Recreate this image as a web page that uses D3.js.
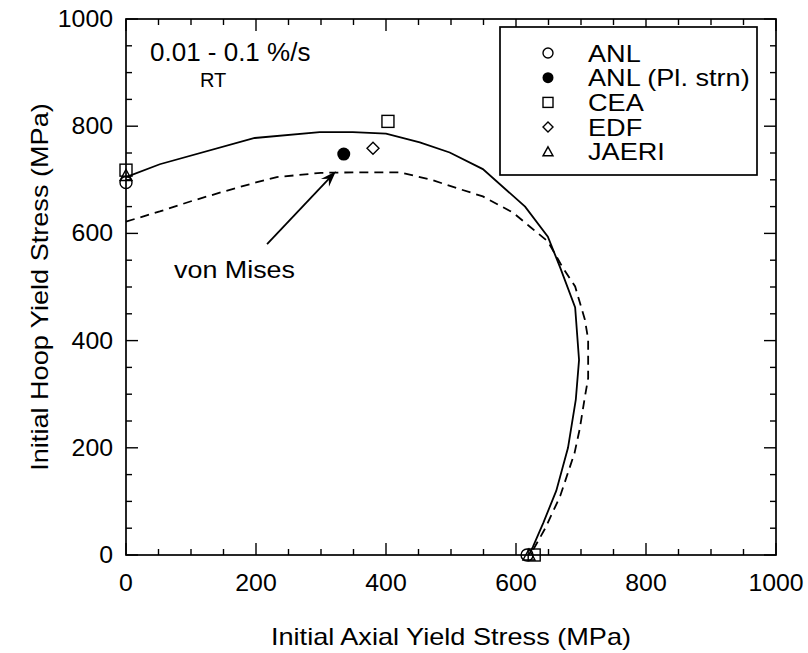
<!DOCTYPE html>
<html><head><meta charset="utf-8">
<script src="https://cdn.jsdelivr.net/npm/d3@7"></script>
<style>body{margin:0;background:#fff}</style>
</head><body><svg id="c" width="808" height="653"></svg>
<script>
// ---- data (MPa) ----
const solidAxial = [0, 52, 198, 298, 349, 400, 452, 498, 549, 614, 649, 668, 691, 697, 692, 680, 662, 642, 626, 620];
const solidHoop  = [705, 729, 778, 789, 789, 786, 770, 751, 720, 650, 594, 536, 462, 364, 290, 200, 120, 60, 15, 0];
const misesAxial = [0, 52, 100, 150, 200, 232, 300, 360, 421, 470, 510, 549, 595, 621, 649, 672, 691, 706, 711, 711, 706, 698, 690, 668, 645, 622];
const misesHoop  = [622, 641, 660, 678, 695, 705, 713, 714, 714, 700, 684, 669, 639, 613, 585, 536, 501, 439, 402, 330, 295, 235, 190, 110, 50, 0];
const seriesNames = ["ANL", "ANL (Pl. strn)", "CEA", "EDF", "JAERI"];
const anlAxial = [0, 617],        anlHoop = [695, 0];
const anlPlAxial = [335],         anlPlHoop = [748];
const ceaAxial = [0, 403, 628],   ceaHoop = [718, 809, 0];
const edfAxial = [380],           edfHoop = [759];
const jaeriAxial = [0, 620],      jaeriHoop = [708, 0];
const xTicks = [0, 200, 400, 600, 800, 1000];
const yTicks = [0, 200, 400, 600, 800, 1000];
const minorTicks = d3.range(0, 1001, 50);
const arrowFrom = [217, 580], arrowTo = [323, 716];

const svg = d3.select("#c");
const L = 126, R = 776, T = 19, B = 555;
const x = d3.scaleLinear().domain([0, 1000]).range([L, R]);
const y = d3.scaleLinear().domain([0, 1000]).range([B, T]);
const FONT = "'Liberation Sans', Arial, Helvetica, sans-serif";

function txt(px, py, s, size, anchor, sx) {
  sx = sx || 1;
  const g = svg.append("g").attr("transform", `translate(${px},${py}) scale(${sx},1)`);
  return g.append("text").attr("x", 0).attr("y", 0).attr("font-family", FONT)
    .attr("font-size", size).attr("text-anchor", anchor || "start").attr("fill", "#000").text(s);
}

// frame
svg.append("rect").attr("x", L).attr("y", T).attr("width", R - L).attr("height", B - T)
  .attr("fill", "none").attr("stroke", "#000").attr("stroke-width", 1.7);

// ticks (inward on all sides)
const tk = svg.append("g").attr("stroke", "#000").attr("stroke-width", 1.4);
minorTicks.forEach(v => {
  const len = (v % 200 === 0) ? 12 : 6;
  tk.append("line").attr("x1", x(v)).attr("x2", x(v)).attr("y1", B).attr("y2", B - len);
  tk.append("line").attr("x1", x(v)).attr("x2", x(v)).attr("y1", T).attr("y2", T + len);
  tk.append("line").attr("y1", y(v)).attr("y2", y(v)).attr("x1", L).attr("x2", L + len);
  tk.append("line").attr("y1", y(v)).attr("y2", y(v)).attr("x1", R).attr("x2", R - len);
});
xTicks.forEach(v => txt(x(v), 591, String(v), 23, "middle", 1.08));
yTicks.forEach(v => txt(113, y(v) + 8, String(v), 23, "end", 1.08));

txt((L + R) / 2, 645, "Initial Axial Yield Stress (MPa)", 24, "middle", 1.13);
svg.append("text").attr("transform", `translate(48,${(T + B) / 2}) rotate(-90) scale(1.13,1)`)
  .attr("font-family", FONT).attr("font-size", 24).attr("text-anchor", "middle")
  .text("Initial Hoop Yield Stress (MPa)");

// curves
const line = d3.line().x(d => x(d[0])).y(d => y(d[1]));
svg.append("path").datum(solidAxial.map((a, i) => [a, solidHoop[i]])).attr("d", line)
  .attr("fill", "none").attr("stroke", "#000").attr("stroke-width", 1.8);
svg.append("path").datum(misesAxial.map((a, i) => [a, misesHoop[i]])).attr("d", line)
  .attr("fill", "none").attr("stroke", "#000").attr("stroke-width", 1.8).attr("stroke-dasharray", "9,6");

// markers
function marker(kind, cx, cy, s) {
  const g = svg.append("g");
  if (kind === "circle") g.append("circle").attr("cx", cx).attr("cy", cy).attr("r", s / 2)
    .attr("fill", "none").attr("stroke", "#000").attr("stroke-width", 1.4);
  if (kind === "fcircle") g.append("circle").attr("cx", cx).attr("cy", cy).attr("r", s / 2 + 0.5)
    .attr("fill", "#000");
  if (kind === "square") g.append("rect").attr("x", cx - s / 2).attr("y", cy - s / 2).attr("width", s).attr("height", s)
    .attr("fill", "none").attr("stroke", "#000").attr("stroke-width", 1.4);
  if (kind === "diamond") g.append("path").attr("d", `M${cx},${cy - s / 2}L${cx + s / 2},${cy}L${cx},${cy + s / 2}L${cx - s / 2},${cy}Z`)
    .attr("fill", "none").attr("stroke", "#000").attr("stroke-width", 1.4);
  if (kind === "triangle") g.append("path").attr("d", `M${cx},${cy - s / 2}L${cx + s / 2},${cy + s / 2 - 1}L${cx - s / 2},${cy + s / 2 - 1}Z`)
    .attr("fill", "none").attr("stroke", "#000").attr("stroke-width", 1.4);
}
const kinds = ["circle", "fcircle", "square", "diamond", "triangle"];
const sets = [[anlAxial, anlHoop], [anlPlAxial, anlPlHoop], [ceaAxial, ceaHoop], [edfAxial, edfHoop], [jaeriAxial, jaeriHoop]];
sets.forEach((st, k) => st[0].forEach((a, i) => marker(kinds[k], x(a), y(st[1][i]), 12)));

// legend
svg.append("rect").attr("x", 500).attr("y", 27).attr("width", 257).attr("height", 148)
  .attr("fill", "#fff").attr("stroke", "#000").attr("stroke-width", 1.7);
seriesNames.forEach((n, i) => {
  const cy = 53 + i * 24.7;
  marker(kinds[i], 548, cy, 10);
  txt(588, cy + 8.5, n, 24, "start", 1.13);
});

// annotations
txt(150, 61, "0.01 - 0.1 %/s", 25, "start", 1.04);
txt(200, 87, "RT", 20, "start", 1);
txt(174, 278, "von Mises", 24, "start", 1.12);

// arrow
const ax1 = x(arrowFrom[0]), ay1 = y(arrowFrom[1]), ax2 = x(arrowTo[0]), ay2 = y(arrowTo[1]);
const ang = Math.atan2(ay2 - ay1, ax2 - ax1);
const hl = 16, hw = 5.5;
svg.append("line").attr("x1", ax1).attr("y1", ay1).attr("x2", ax2 - 8 * Math.cos(ang)).attr("y2", ay2 - 8 * Math.sin(ang))
  .attr("stroke", "#000").attr("stroke-width", 1.8);
const bx = ax2 - hl * Math.cos(ang), by = ay2 - hl * Math.sin(ang);
const nx = -Math.sin(ang), ny = Math.cos(ang);
const mx = ax2 - hl * 0.65 * Math.cos(ang), my = ay2 - hl * 0.65 * Math.sin(ang);
svg.append("path").attr("d", `M${ax2},${ay2}L${bx + hw * nx},${by + hw * ny}L${mx},${my}L${bx - hw * nx},${by - hw * ny}Z`)
  .attr("fill", "#000");
</script></body></html>
